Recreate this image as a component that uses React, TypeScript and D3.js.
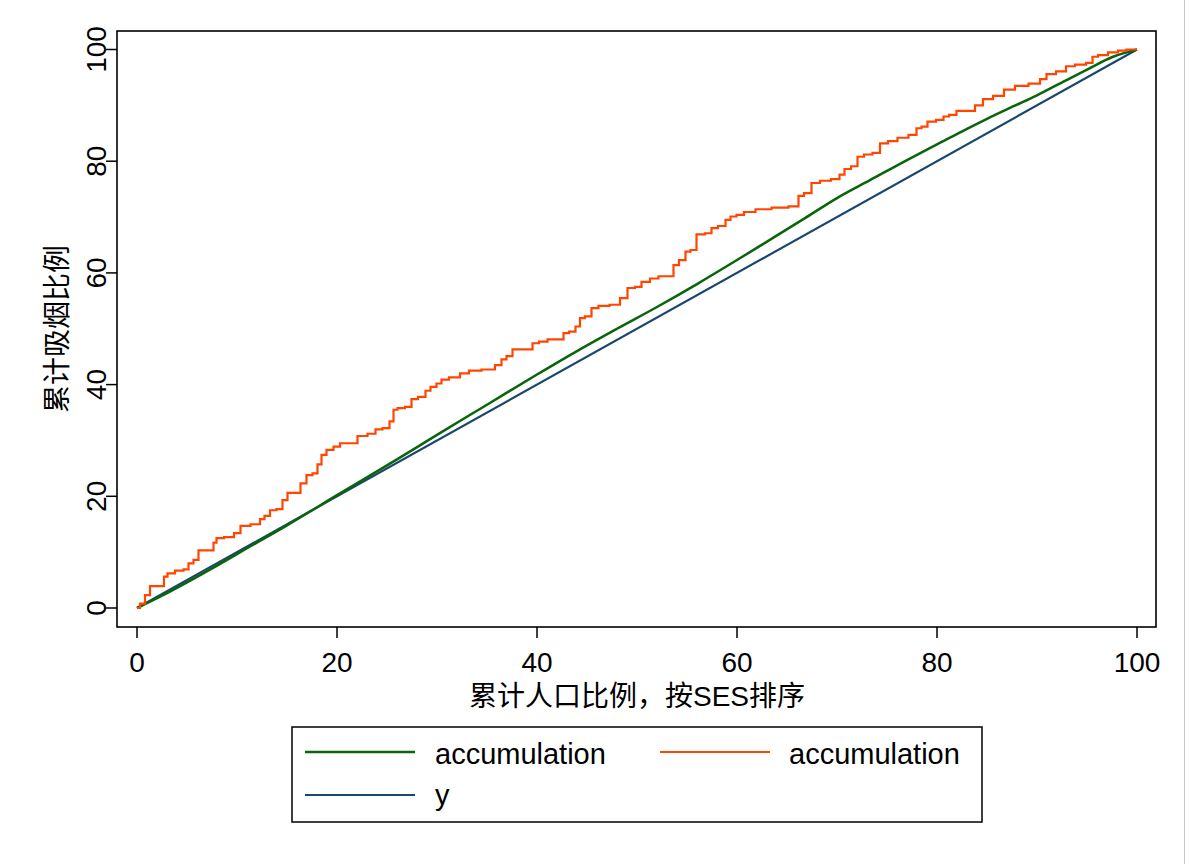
import React from "react";
import * as d3 from "d3";

const xTicks = [0, 20, 40, 60, 80, 100];
const yTicks = [0, 20, 40, 60, 80, 100];

const diagX = [0, 100];
const diagY = [0, 100];

const greenX = [0, 2.6, 5, 8, 11, 15, 20, 26, 30, 35, 40, 44, 48, 52, 56, 60, 63, 66.8, 70, 73.3, 77, 80, 83, 85, 87.6, 90, 92.6, 95, 97.6, 100];
const greenY = [0, 2.3, 4.6, 7.6, 10.7, 14.8, 20.2, 26.6, 31.0, 36.4, 41.8, 46.0, 50.0, 53.9, 58.0, 62.3, 65.6, 69.8, 73.4, 76.6, 80.2, 83.0, 85.8, 87.6, 89.8, 91.8, 94.2, 96.4, 98.7, 100];

const orangeX = [0, 0.6, 1.0, 1.6, 2.6, 2.8, 3.3, 4.3, 5.0, 5.3, 6.0, 6.3, 7.5, 7.8, 8.1, 9.3, 10.1, 10.6, 12.1, 12.5, 13.0, 13.6, 14.3, 14.8, 15.3, 16.1, 16.6, 17.3, 17.8, 18.3, 18.6, 19.3, 20.0, 20.6, 21.6, 22.5, 23.6, 24.1, 25.0, 25.5, 25.8, 26.3, 27.3, 27.6, 28.6, 29.1, 29.6, 30.3, 30.6, 31.8, 32.8, 33.6, 35.3, 36.3, 36.6, 37.3, 37.8, 39.3, 39.8, 40.6, 41.5, 42.5, 42.8, 43.6, 44.1, 44.5, 45.1, 45.8, 46.5, 48.0, 48.6, 49.5, 50.1, 50.8, 51.8, 52.5, 53.5, 53.8, 54.6, 55.1, 55.6, 56.3, 57.3, 57.6, 58.6, 59.1, 59.6, 60.3, 61.1, 62.6, 64.3, 66.0, 66.3, 67.1, 67.8, 68.8, 70.0, 70.5, 71.0, 71.8, 72.3, 73.1, 74.0, 74.6, 75.6, 76.5, 77.8, 78.1, 78.8, 79.3, 80.5, 80.8, 81.6, 82.3, 83.5, 84.1, 85.1, 86.1, 87.3, 88.3, 90.0, 90.6, 91.3, 92.5, 93.3, 94.3, 95.5, 95.6, 96.6, 97.6, 98.6, 99.3, 100];
const orangeY = [0, 0.8, 2.3, 3.9, 3.9, 5.6, 6.2, 6.7, 6.9, 8.0, 8.6, 10.3, 10.3, 11.7, 12.5, 12.7, 13.4, 14.7, 15.0, 15.9, 16.5, 17.5, 17.7, 19.3, 20.6, 20.6, 22.3, 23.8, 24.1, 25.7, 27.4, 28.3, 28.9, 29.5, 29.5, 30.8, 31.2, 32.0, 32.2, 33.4, 35.5, 35.8, 36.0, 37.4, 37.8, 38.9, 39.6, 40.2, 40.9, 41.3, 42.0, 42.5, 42.7, 43.5, 44.5, 45.1, 46.3, 46.3, 47.4, 47.7, 48.1, 48.1, 49.2, 49.5, 50.4, 51.9, 52.2, 53.7, 54.1, 54.3, 55.5, 57.3, 57.5, 58.4, 59.0, 59.4, 59.4, 61.4, 62.3, 63.8, 64.1, 66.9, 67.1, 68.0, 68.4, 69.5, 70.1, 70.4, 70.9, 71.4, 71.7, 71.9, 73.8, 74.3, 76.1, 76.5, 76.8, 77.6, 78.6, 79.1, 80.8, 81.2, 81.5, 83.2, 83.6, 84.2, 84.7, 85.9, 86.2, 87.1, 87.4, 88.0, 88.3, 89.0, 89.0, 90.0, 91.1, 91.7, 92.8, 93.5, 93.9, 94.7, 95.6, 96.1, 97.0, 97.3, 97.6, 98.7, 99.0, 99.5, 99.8, 100, 100];

const legendLabels = ["accumulation", "accumulation", "y"];

const FONT = "'Liberation Sans', Arial, 'Noto Sans CJK SC', sans-serif";

export default function App() {
  const W = 1189, H = 864;
  const plot = { left: 117, right: 1156, top: 31, bottom: 627 };
  const x = d3.scaleLinear().domain([0, 100]).range([137, 1137]);
  const y = d3.scaleLinear().domain([0, 100]).range([608, 49.5]);
  const line = d3.line<[number, number]>().x(d => x(d[0])).y(d => y(d[1]));
  const smooth = d3.line<[number, number]>().x(d => x(d[0])).y(d => y(d[1])).curve(d3.curveMonotoneX);
  const stairs = d3.line<[number, number]>().x(d => x(d[0])).y(d => y(d[1])).curve(d3.curveStep);
  const zip = (a: number[], b: number[]) => a.map((v, i) => [v, b[i]] as [number, number]);

  const green = "#0a650a";
  const orange = "#ff4500";
  const navy = "#1a476f";

  return (
    <svg width={W} height={H} style={{ position: "absolute", left: 0, top: 0, background: "#fff" }} fontFamily={FONT}>
      <rect x={0} y={0} width={W} height={H} fill="#fff" />
      <line x1={1184.5} x2={1184.5} y1={0} y2={H} stroke="#c8c8c8" strokeWidth={1} />
      <rect x={plot.left} y={plot.top} width={plot.right - plot.left} height={plot.bottom - plot.top} fill="none" stroke="#000" strokeWidth={1.6} />
      {xTicks.map(t => (
        <g key={"x" + t}>
          <line x1={x(t)} x2={x(t)} y1={plot.bottom} y2={plot.bottom + 11} stroke="#000" strokeWidth={1.5} />
          <text x={x(t)} y={672} textAnchor="middle" fontSize={28} fill="#000">{t}</text>
        </g>
      ))}
      {yTicks.map(t => (
        <g key={"y" + t}>
          <line x1={plot.left - 11} x2={plot.left} y1={y(t)} y2={y(t)} stroke="#000" strokeWidth={1.5} />
          <text transform={`translate(106,${y(t)}) rotate(-90)`} textAnchor="middle" fontSize={28} fill="#000">{t}</text>
        </g>
      ))}
      <path d={line(zip(diagX, diagY)) || ""} fill="none" stroke={navy} strokeWidth={2.2} />
      <path d={smooth(zip(greenX, greenY)) || ""} fill="none" stroke={green} strokeWidth={2.5} strokeLinejoin="round" />
      <path d={stairs(zip(orangeX, orangeY)) || ""} fill="none" stroke={orange} strokeWidth={2.2} strokeLinejoin="miter" />
      <text x={637} y={706} textAnchor="middle" fontSize={28} fill="#000">累计人口比例，按SES排序</text>
      <text transform={`translate(67,${(plot.top + plot.bottom) / 2}) rotate(-90)`} textAnchor="middle" fontSize={28} fill="#000">累计吸烟比例</text>
      <rect x={292} y={727} width={690} height={95} fill="#fff" stroke="#000" strokeWidth={1.5} />
      <line x1={305} x2={415} y1={752} y2={752} stroke={green} strokeWidth={2.4} />
      <text x={435} y={764} fontSize={29} fill="#000">{legendLabels[0]}</text>
      <line x1={660} x2={770} y1={752} y2={752} stroke={orange} strokeWidth={2.2} />
      <text x={789} y={764} fontSize={29} fill="#000">{legendLabels[1]}</text>
      <line x1={305} x2={415} y1={795} y2={795} stroke={navy} strokeWidth={2.2} />
      <text x={435} y={805} fontSize={29} fill="#000">{legendLabels[2]}</text>
    </svg>
  );
}
